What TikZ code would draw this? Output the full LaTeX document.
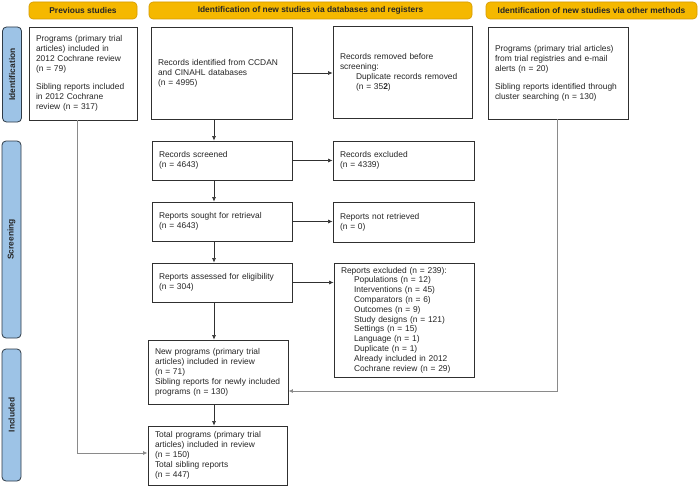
\documentclass[tikz,border=0pt]{standalone}
\usepackage{fontspec}
\setmainfont{Liberation Sans}
\usetikzlibrary{arrows.meta}
\definecolor{hdrfill}{HTML}{F5B800}
\definecolor{hdrline}{HTML}{D49A00}
\definecolor{phfill}{HTML}{9DC3E6}
\definecolor{phline}{HTML}{2E3A46}
\definecolor{boxline}{HTML}{303030}
\definecolor{longline}{HTML}{8A8A8A}
\tikzset{
  fbox/.style={draw=boxline, line width=0.9pt, fill=white, align=left, inner xsep=7pt, inner ysep=2pt,
    font=\fontsize{8.4}{10}\selectfont, text=black!85},
  bx/.style n args={3}{minimum width=#1pt, minimum height=#2pt, text width=#3pt},
  hdr/.style={draw=hdrline, fill=hdrfill, rounded corners=4pt, line width=0.6pt, minimum height=17pt,
    font=\bfseries\fontsize{8.4}{10}\selectfont, text=black!85, inner sep=0pt},
  phase/.style={draw=phline, fill=phfill, rounded corners=4pt, line width=0.8pt, rotate=90, minimum height=19pt,
    font=\bfseries\fontsize{8.4}{10}\selectfont, text=black!85, inner sep=0pt},
  conn/.style={draw=boxline, line width=0.6pt, -{Latex[length=4.5pt,width=4pt]}},
  lconn/.style={draw=longline, line width=0.9pt, -{Latex[length=4.5pt,width=4pt]}}
}
\begin{document}
\begin{tikzpicture}[x=1pt,y=-1pt]
\useasboundingbox (0,0) rectangle (700,487);
% headers
\node[hdr, minimum width=108pt] (h1) at (83,10.5) {Previous studies};
\node[hdr, minimum width=323pt] (h2) at (310.5,10.5) {Identification of new studies via databases and registers};
\node[hdr, minimum width=211pt] (h3) at (591.5,10.5) {Identification of new studies via other methods};
% phases
\node[phase, minimum width=95pt] (p1) at (12,74.5) {Identification};
\node[phase, minimum width=197pt] (p2) at (11.5,239.5) {Screening};
\node[phase, minimum width=132pt] (p3) at (11.5,415) {Included};
% boxes
\node[fbox, bx={108}{93}{94}] (prev) at (83,73.5) {Programs (primary trial\\articles) included in\\2012 Cochrane review\\(n = 79)\\[8pt]Sibling reports included\\in 2012 Cochrane\\review (n = 317)};
\node[fbox, bx={141}{92}{127}] (rid) at (221.5,73) {Records identified from CCDAN\\and CINAHL databases\\(n = 4995)};
\node[fbox, bx={139}{92}{125}] (rrem) at (402.5,72) {Records removed before\\screening:\\\hspace*{16pt}Duplicate records removed\\\hspace*{16pt}(n = 35\textbf{2})};
\node[fbox, bx={140}{92}{126}] (oth) at (558,73) {Programs (primary trial articles)\\from trial registries and e-mail\\alerts (n = 20)\\[8pt]Sibling reports identified through\\cluster searching (n = 130)};
\node[fbox, bx={140}{39}{126}] (rsc) at (222,160.5) {Records screened\\(n = 4643)};
\node[fbox, bx={141}{39}{127}] (rexc) at (403.5,160.5) {Records excluded\\(n = 4339)};
\node[fbox, bx={140}{39}{126}] (rsou) at (222,221.5) {Reports sought for retrieval\\(n = 4643)};
\node[fbox, bx={141}{40}{127}] (rnot) at (403.5,222) {Reports not retrieved\\(n = 0)};
\node[fbox, bx={140}{39}{126}] (rass) at (222,282.5) {Reports assessed for eligibility\\(n = 304)};
\node[fbox, bx={140}{114}{126}, font=\fontsize{8.4}{9.8}\selectfont] (rex2) at (404,320) {Reports excluded (n = 239):\\
\hspace*{13pt}Populations (n = 12)\\
\hspace*{13pt}Interventions (n = 45)\\
\hspace*{13pt}Comparators (n = 6)\\
\hspace*{13pt}Outcomes (n = 9)\\
\hspace*{13pt}Study designs (n = 121)\\
\hspace*{13pt}Settings (n = 15)\\
\hspace*{13pt}Language (n = 1)\\
\hspace*{13pt}Duplicate (n = 1)\\
\hspace*{13pt}Already included in 2012\\
\hspace*{13pt}Cochrane review (n = 29)};
\node[fbox, bx={140}{64}{126}] (newp) at (218,372) {New programs (primary trial\\articles) included in review\\(n = 71)\\Sibling reports for newly included\\programs (n = 130)};
\node[fbox, bx={139}{59}{125}] (tot) at (217.5,455.5) {Total programs (primary trial\\articles) included in review\\(n = 150)\\Total sibling reports\\(n = 447)};
% coordinates
\coordinate (colx) at (214,0);
\coordinate (bendA) at (77,453);
\coordinate (bendB) at (557.5,391);
% vertical arrows
\draw[conn] (rid.south -| colx) -- (rsc.north -| colx);
\draw[conn] (rsc.south -| colx) -- (rsou.north -| colx);
\draw[conn] (rsou.south -| colx) -- (rass.north -| colx);
\draw[conn] (rass.south -| colx) -- (newp.north -| colx);
\draw[conn] (newp.south -| colx) -- (tot.north -| colx);
% horizontal arrows
\draw[conn] (rid.east) -- (rid.east -| rrem.west);
\draw[conn] (rsc.east) -- (rsc.east -| rexc.west);
\draw[conn] (rsou.east) -- (rsou.east -| rnot.west);
\draw[conn] (rass.east) -- (rass.east -| rex2.west);
% long lines
\draw[lconn] (prev.south -| bendA) -- (bendA) -- (bendA -| tot.west);
\draw[lconn] (oth.south -| bendB) -- (bendB) -- (bendB -| newp.east);
\end{tikzpicture}
\end{document}
